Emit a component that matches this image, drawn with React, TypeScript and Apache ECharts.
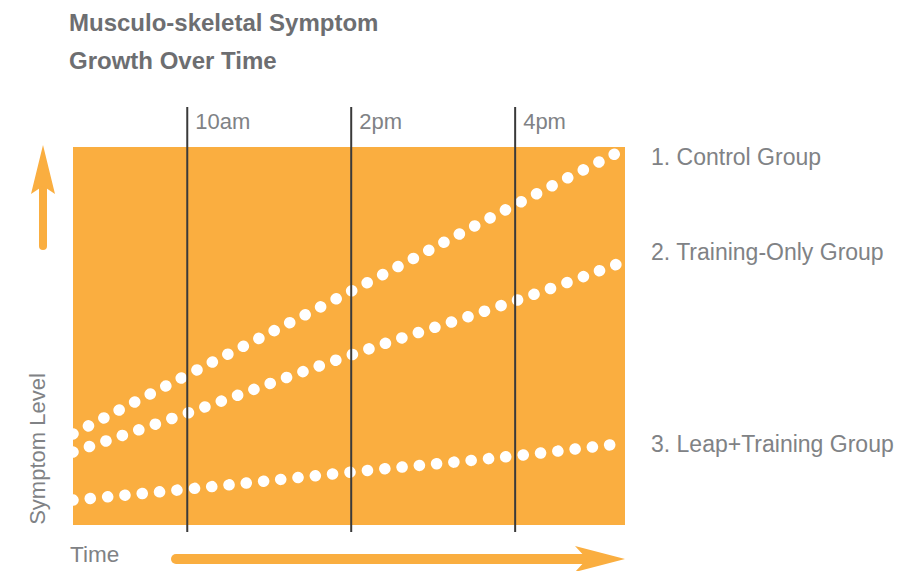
import React, { useEffect, useRef } from "react";
import * as echarts from "echarts";

// Relative time position (0–100 across the plot) and symptom level (0–100)
const xPositions = [0, 20.7, 50.4, 80.1, 100];
const controlGroup = [24.1, 39.7, 61.9, 84.7, 99.5];
const trainingOnlyGroup = [19.3, 29.6, 45.0, 59.3, 69.8];
const leapTrainingGroup = [6.6, 9.5, 14.0, 18.3, 21.7];

const timeMarks = [20.7, 50.4, 80.1];
const timeLabels = ["10am", "2pm", "4pm"];

const seriesNames = ["1. Control Group", "2. Training-Only Group", "3. Leap+Training Group"];

const ORANGE = "#FAAE40";
const GRAY = "#808285";
const FONT = "'Liberation Sans', Helvetica, Arial, sans-serif";

export default function App() {
  const ref = useRef<HTMLDivElement>(null);

  useEffect(() => {
    if (!ref.current) return;
    const chart = echarts.init(ref.current, undefined, { renderer: "svg" });

    const toPairs = (ys: number[]) => xPositions.map((x, i) => [x, ys[i]]);

    const dotLine = (name: string, ys: number[]) => ({
      name,
      type: "line",
      data: toPairs(ys),
      smooth: true,
      showSymbol: false,
      symbol: "none",
      z: 3,
      lineStyle: {
        color: "#ffffff",
        width: 11.5,
        type: [0.1, 17.3],
        cap: "round",
      },
    });

    const option: any = {
      animation: false,
      title: {
        text: "Musculo-skeletal Symptom\nGrowth Over Time",
        left: 69,
        top: 3,
        padding: 0,
        textStyle: {
          fontFamily: FONT,
          fontSize: 24,
          fontWeight: "bold",
          color: "#6d6e71",
          lineHeight: 38,
        },
      },
      grid: {
        left: 73,
        right: 278,
        top: 147,
        bottom: 46,
        show: true,
        backgroundColor: ORANGE,
        borderWidth: 0,
      },
      xAxis: {
        type: "value",
        min: 0,
        max: 100,
        show: false,
      },
      yAxis: {
        type: "value",
        min: 0,
        max: 100,
        show: false,
      },
      series: [
        dotLine(seriesNames[0], controlGroup),
        dotLine(seriesNames[1], trainingOnlyGroup),
        dotLine(seriesNames[2], leapTrainingGroup),
        {
          type: "custom",
          clip: false,
          z: 5,
          data: timeMarks.map((x, i) => [x, i]),
          renderItem: (params: any, api: any) => {
            const x = api.coord([api.value(0), 0])[0];
            const bottom = api.coord([0, 0])[1];
            const top = api.coord([0, 100])[1];
            const idx = api.value(1);
            return {
              type: "group",
              children: [
                {
                  type: "line",
                  shape: { x1: x, y1: top - 40, x2: x, y2: bottom + 7 },
                  style: { stroke: "#3a3a3a", lineWidth: 2 },
                },
                {
                  type: "text",
                  x: x + 8,
                  y: top - 26,
                  style: {
                    text: timeLabels[idx],
                    fill: GRAY,
                    fontFamily: FONT,
                    fontSize: 22,
                    verticalAlign: "middle",
                    align: "left",
                  },
                },
              ],
            };
          },
        },
      ],
      graphic: [
        // group labels
        {
          type: "text",
          x: 651,
          y: 157,
          style: { text: seriesNames[0], fill: GRAY, fontFamily: FONT, fontSize: 23, verticalAlign: "middle" },
        },
        {
          type: "text",
          x: 651,
          y: 252,
          style: { text: seriesNames[1], fill: GRAY, fontFamily: FONT, fontSize: 23, verticalAlign: "middle" },
        },
        {
          type: "text",
          x: 651,
          y: 444,
          style: { text: seriesNames[2], fill: GRAY, fontFamily: FONT, fontSize: 23, verticalAlign: "middle" },
        },
        // axis titles
        {
          type: "text",
          x: 37,
          y: 449,
          rotation: Math.PI / 2,
          style: {
            text: "Symptom Level",
            fill: GRAY,
            fontFamily: FONT,
            fontSize: 22,
            align: "center",
            verticalAlign: "middle",
          },
        },
        {
          type: "text",
          x: 70,
          y: 554,
          style: {
            text: "Time",
            fill: GRAY,
            fontFamily: FONT,
            fontSize: 22.5,
            align: "left",
            verticalAlign: "middle",
          },
        },
        // up arrow
        {
          type: "line",
          shape: { x1: 43, y1: 246, x2: 43, y2: 186 },
          style: { stroke: ORANGE, lineWidth: 8, lineCap: "round" },
        },
        {
          type: "polygon",
          shape: { points: [[43, 145], [55, 194], [43, 186], [31, 194]] },
          style: { fill: ORANGE },
        },
        // right arrow
        {
          type: "line",
          shape: { x1: 176, y1: 559, x2: 588, y2: 559 },
          style: { stroke: ORANGE, lineWidth: 10, lineCap: "round" },
        },
        {
          type: "polygon",
          shape: { points: [[625, 559], [575, 546], [587, 559], [575, 572]] },
          style: { fill: ORANGE },
        },
      ],
    };

    chart.setOption(option);
    return () => chart.dispose();
  }, []);

  return (
    <div
      ref={ref}
      style={{ position: "fixed", left: 0, top: 0, width: 903, height: 571, background: "#ffffff" }}
    />
  );
}
